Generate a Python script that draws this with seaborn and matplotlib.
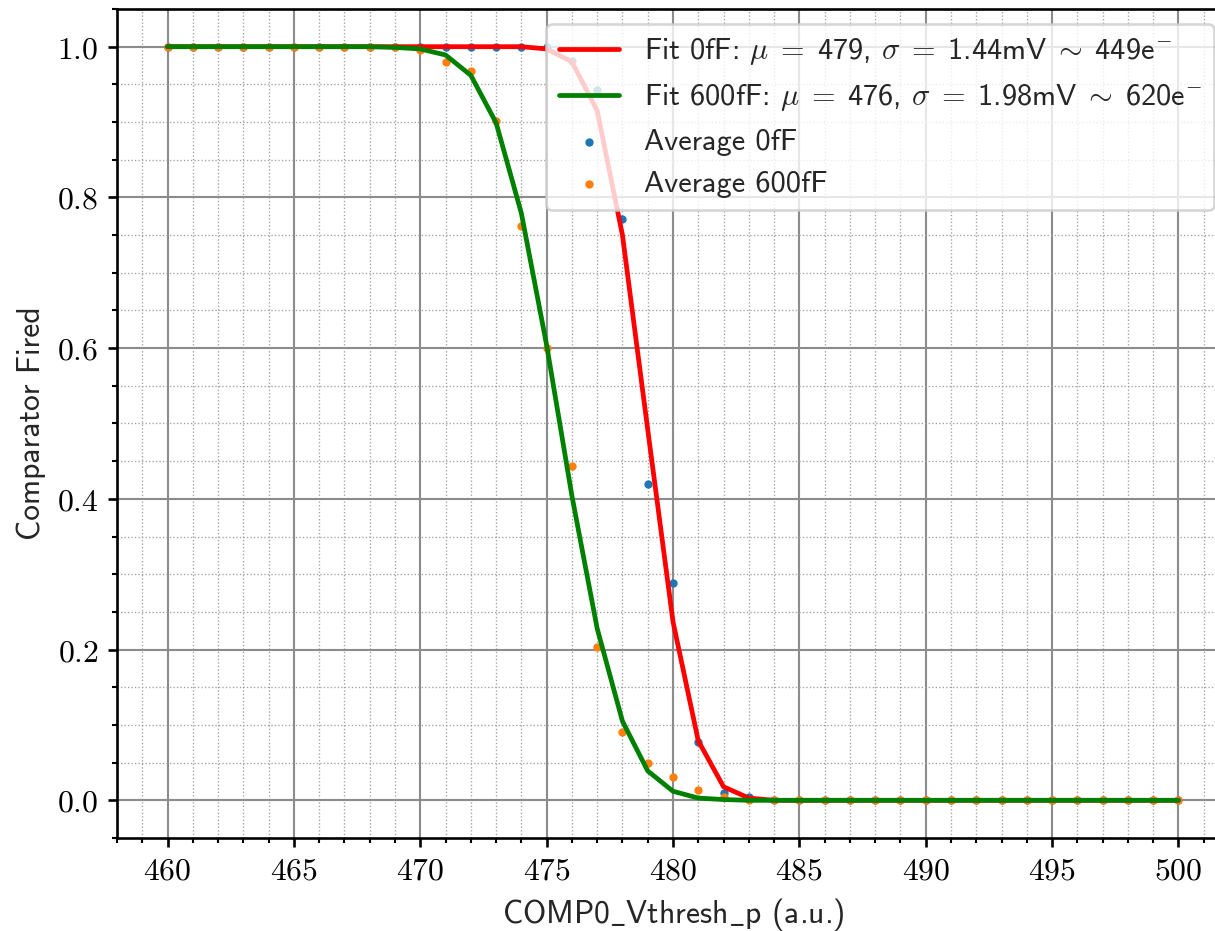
import matplotlib
matplotlib.use("Agg")
import matplotlib.pyplot as plt
import seaborn as sns
import pandas as pd
from matplotlib.ticker import MultipleLocator, FuncFormatter

# Threshold DAC settings scanned
vthresh = list(range(460, 501))

# Measured firing fraction per setting
avg_0fF = ([1.0] * 16
           + [0.981, 0.942, 0.772, 0.420, 0.288, 0.077, 0.010, 0.004]
           + [0.0] * 17)
avg_600fF = ([1.0] * 10
             + [0.995, 0.980, 0.968, 0.901, 0.762, 0.600, 0.443, 0.203,
                0.091, 0.049, 0.031, 0.014, 0.005]
             + [0.0] * 18)

# Error-function fits evaluated at the scanned settings
fit_0fF = ([1.0] * 15
           + [0.997, 0.980, 0.915, 0.750, 0.492, 0.237, 0.079, 0.018, 0.003]
           + [0.0] * 17)
fit_600fF = ([1.0] * 9
             + [0.999, 0.997, 0.989, 0.962, 0.899, 0.779, 0.604, 0.404,
                0.228, 0.105, 0.039, 0.012, 0.003, 0.001]
             + [0.0] * 18)

# Fit parameters shown in the legend
fit_mu = [478.97, 475.52]
fit_sigma_mV = [1.44, 1.98]
fit_electrons = [449, 620]
fit_names = ["0fF", "600fF"]

sns.set_style("ticks")
plt.rcParams.update({
    "font.family": ["cmss10", "DejaVu Sans"],
    "mathtext.fontset": "cm",
    "axes.unicode_minus": False,
    "axes.linewidth": 1.0,
    "xtick.major.width": 1.0,
    "ytick.major.width": 1.0,
    "xtick.minor.width": 0.8,
    "ytick.minor.width": 0.8,
    "xtick.major.size": 3.5,
    "ytick.major.size": 3.5,
    "xtick.minor.size": 2.0,
    "ytick.minor.size": 2.0,
    "xtick.color": "black",
    "ytick.color": "black",
    "axes.edgecolor": "black",
})

df = pd.DataFrame({
    "vthresh": vthresh,
    "avg_0fF": avg_0fF,
    "avg_600fF": avg_600fF,
    "fit_0fF": fit_0fF,
    "fit_600fF": fit_600fF,
})

fig = plt.figure(figsize=(1215 / 190, 931 / 190), dpi=190)
ax = fig.add_axes([117 / 1215, 1 - 838 / 931, (1229 - 117) / 1215, (838 - 9) / 931])

sns.scatterplot(data=df, x="vthresh", y="avg_0fF", color="#1f77b4", s=10,
                linewidth=0, label="Average 0fF", ax=ax, zorder=2)
sns.scatterplot(data=df, x="vthresh", y="avg_600fF", color="#ff7f0e", s=10,
                linewidth=0, label="Average 600fF", ax=ax, zorder=2)


def fit_label(i):
    return (rf"Fit {fit_names[i]}: $\mu\;=\;${fit_mu[i]:.0f}, "
            rf"$\sigma\;=\;${fit_sigma_mV[i]:.2f}mV"
            rf"$\;\sim\;${fit_electrons[i]}e$^{{-}}$")


sns.lineplot(data=df, x="vthresh", y="fit_0fF", color="red", linewidth=1.8,
             estimator=None, label=fit_label(0), ax=ax, zorder=3)
sns.lineplot(data=df, x="vthresh", y="fit_600fF", color="green", linewidth=1.8,
             estimator=None, label=fit_label(1), ax=ax, zorder=3)

ax.set_xlim(458, 502)
ax.set_ylim(-0.05, 1.05)
ax.xaxis.set_major_locator(MultipleLocator(5))
ax.xaxis.set_minor_locator(MultipleLocator(1))
ax.yaxis.set_major_locator(MultipleLocator(0.2))
ax.yaxis.set_minor_locator(MultipleLocator(0.05))
ax.xaxis.set_major_formatter(FuncFormatter(lambda v, p: f"${v:.0f}$"))
ax.yaxis.set_major_formatter(FuncFormatter(lambda v, p: f"${v:.1f}$"))
ax.tick_params(which="both", direction="out", top=False, right=False,
               labelsize=12)

ax.grid(which="major", color="#8c8c8c", linewidth=0.8, linestyle="-")
ax.grid(which="minor", color="#a0a0a0", linewidth=0.5, linestyle=":")
ax.set_axisbelow(True)

ax.set_xlabel(r"COMP0$\_$Vthresh$\_$p (a.u.)", fontsize=12)
ax.set_ylabel("Comparator Fired", fontsize=12)

# Fits first, then the averaged points
handles, labels = ax.get_legend_handles_labels()
order = [labels.index(fit_label(0)), labels.index(fit_label(1)),
         labels.index("Average 0fF"), labels.index("Average 600fF")]
ax.legend([handles[i] for i in order], [labels[i] for i in order],
          loc="upper right", fontsize=11.5, framealpha=0.8)

fig.savefig("out.png", dpi=190)
